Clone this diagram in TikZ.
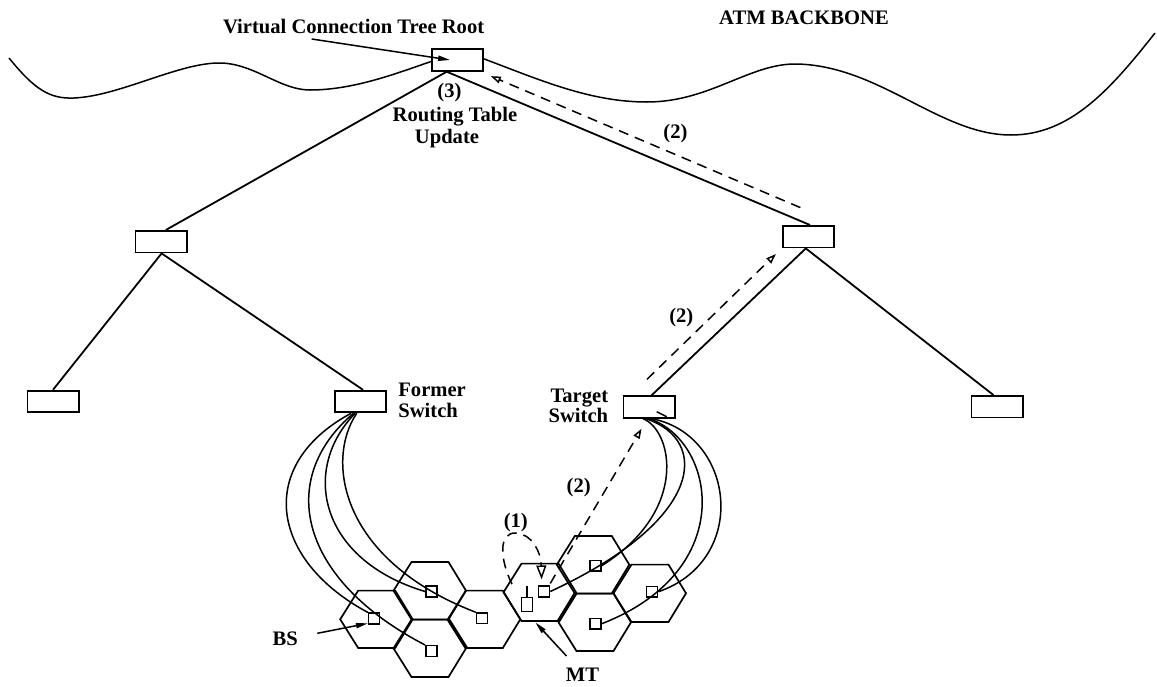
\documentclass[tikz,border=0pt]{standalone}
\usepackage{fontspec}
\setmainfont{Liberation Serif}
\usetikzlibrary{arrows.meta,calc}
\begin{document}
\begin{tikzpicture}[x=0.5pt,y=-0.5pt,
  sw/.style={draw, line width=0.9pt, minimum width=25.6pt, minimum height=10.8pt, inner sep=0pt},
  bs/.style={draw, line width=0.75pt, minimum width=5.5pt, minimum height=5.3pt, inner sep=0pt},
  lbl/.style={font=\fontsize{10.3}{10.6}\selectfont\bfseries, inner sep=0pt},
  tree/.style={line width=0.9pt},
  link/.style={line width=0.75pt},
  wave/.style={line width=0.75pt},
  hexline/.style={line width=0.85pt},
  msg/.style={line width=0.75pt, dash pattern=on 5pt off 3.5pt, -{Triangle[open,length=5pt,width=3.4pt]}},
  msgbig/.style={line width=0.75pt, dash pattern=on 5pt off 3.5pt, -{Triangle[open,length=7pt,width=5pt]}},
  ptr/.style={line width=0.75pt, -{Triangle[length=6pt,width=2.6pt]}}]
\useasboundingbox (0,0) rectangle (1157,686);

% switches
\node[sw] (root)   at (457.3,60) {};
\node[sw] (midL)   at (161,241.7) {};
\node[sw] (midR)   at (808.4,236.7) {};
\node[sw] (leafL)  at (53,401.5) {};
\node[sw] (former) at (360.4,401.5) {};
\node[sw] (target) at (649,407) {};
\node[sw] (leafR)  at (997,406.7) {};

% backbone wave
\draw[wave] (9,58) .. controls (35,90) and (50,99) .. (74,98)
  .. controls (120,96) and (180,62) .. (221,63)
  .. controls (255,64) and (280,90) .. (310,90)
  .. controls (355,90) and (400,72) .. ([yshift=-0.8pt]root.west);
\draw[wave] ([yshift=0.6pt]root.east) .. controls (540,80) and (590,102) .. (647,102)
  .. controls (710,102) and (750,63) .. (797,64)
  .. controls (880,66) and (940,135) .. (1011,135)
  .. controls (1070,135) and (1110,90) .. (1155,33);

% tree
\draw[tree] ([xshift=-5.3pt]root.south) -- ([xshift=2.4pt]midL.north);
\draw[tree] ([xshift=-5.3pt]root.south) -- ([xshift=0.8pt]midR.north);
\draw[tree] ([xshift=0.3pt]midL.south) -- (leafL.north);
\draw[tree] ([xshift=0.3pt]midL.south) -- ([xshift=1.3pt]former.north);
\draw[tree] ([xshift=-1.3pt]midR.south) -- ([xshift=1.3pt]target.north);
\draw[tree] ([xshift=-1.3pt]midR.south) -- ([xshift=-1.8pt]leafR.north);
\draw[link] ([xshift=3.85pt,yshift=-2.35pt]target.center) -- ([xshift=8.85pt,yshift=-4.85pt]target.center);

% hexagonal cells
\foreach \cx/\cy in {376.7/619.3, 430/590.7, 430/648.3, 484.3/619.3, 540/592.3, 593.3/564.7, 650/593.3, 595/622.3}
  \draw[hexline] (\cx,\cy) ++(36,0) -- ++(-17.5,28.7) -- ++(-37,0) -- ++(-18,-28.7) -- ++(18,-28.7) -- ++(37,0) -- cycle;
\draw[line width=1.7pt] (448.3,619.3) -- (466.3,648);
\draw[line width=1.7pt] (576,592.3) -- (558.5,621);

% base stations and mobile terminal
\node[bs] (BS1) at (374.2,618.5) {};
\node[bs] (BS2) at (431.3,591.5) {};
\node[bs] (BS3) at (431.3,651) {};
\node[bs] (BS4) at (482,618.3) {};
\node[bs] (BS5) at (544,591.5) {};
\node[bs] (BS6) at (595.5,565.7) {};
\node[bs] (BS7) at (652.2,591.7) {};
\node[bs] (BS8) at (595.5,623.7) {};
\node[draw, line width=0.75pt, minimum width=5.5pt, minimum height=7.2pt, inner sep=0pt] (MT) at (527.2,604.5) {};
\draw[link] (MT.north) -- ++(0,-10.6);

% links former switch -> base stations
\draw[link] ([xshift=-4.6pt]former.south) .. controls (255,465) and (270,560) .. (BS1.north west);
\draw[link] ([xshift=-3.4pt]former.south) .. controls (275,480) and (300,580) .. (BS3.north west);
\draw[link] ([xshift=-2.6pt]former.south) .. controls (300,470) and (320,560) .. (BS2.west);
\draw[link] ([xshift=-1.8pt]former.south) .. controls (325,460) and (340,560) .. (BS4.north west);

% links target switch -> base stations
\draw[link] ([xshift=-3pt]target.south) .. controls (672,430) and (690,510) .. (BS6.east);
\draw[link] ([xshift=-1.5pt]target.south) .. controls (710,440) and (705,520) .. (BS5.east);
\draw[link] ([xshift=0pt]target.south) .. controls (715,440) and (740,570) .. (BS8.east);
\draw[link] ([xshift=1.5pt]target.south) .. controls (735,435) and (750,560) .. (BS7.east);

% signalling messages
\coordinate (m1s) at ([xshift=-7.6pt,yshift=6.2pt]MT.north);
\draw[msgbig] (m1s) .. controls (500,560) and (498,532) .. (516,533)
  .. controls (532,534) and (541,552) .. ([xshift=-1.2pt,yshift=3pt]BS5.north);
\draw[msg] ([yshift=1pt]BS5.north east) -- ([xshift=-3.7pt,yshift=-5pt]target.south);
\draw[msg] ([xshift=-1pt,yshift=8pt]target.north) -- ([xshift=-3pt,yshift=-2.8pt]midR.south west);
\draw[msg] ([xshift=-4pt,yshift=8.7pt]midR.north) -- ([xshift=3.5pt,yshift=-2.2pt]root.south east);

% labels
\node[lbl, anchor=base west] (vctr) at (222.7,33.3) {Virtual Connection Tree Root};
\coordinate (vctrp) at (311.7,39);
\draw[ptr] (vctrp) -- ([xshift=-3.6pt]root.center);
\node[lbl, anchor=base] (atm) at (804,24.5) {ATM BACKBONE};
\node[lbl, anchor=base] (l3) at (449.5,97) {(3)};
\node[lbl, anchor=base] (rt) at (455,121.7) {Routing Table};
\node[lbl, anchor=base] (up) at (447,143) {Update};
\node[lbl, anchor=base] (l2a) at (675.5,138.5) {(2)};
\node[lbl, anchor=base] (l2b) at (681.3,322) {(2)};
\node[lbl, anchor=base] (l2c) at (578.7,492) {(2)};
\node[lbl, anchor=base] (l1) at (515.8,527.5) {(1)};
\node[lbl, anchor=base west] (fs1) at (398,396.7) {Former};
\node[lbl, anchor=base west] (fs2) at (398,417.3) {Switch};
\node[lbl, anchor=base east] (ts1) at (608.5,402.3) {Target};
\node[lbl, anchor=base east] (ts2) at (608.5,422.8) {Switch};
\node[lbl, anchor=base] (bsl) at (285.3,645) {BS};
\coordinate (bsp) at (317.3,633.3);
\draw[ptr] (bsp) -- ([yshift=0.6pt]BS1.south west);
\node[lbl, anchor=base] (mtl) at (582.5,681.7) {MT};
\coordinate (mtp) at (566.5,656);
\draw[ptr] (mtp) -- ([xshift=1pt,yshift=-5pt]MT.south east);
\end{tikzpicture}
\end{document}
